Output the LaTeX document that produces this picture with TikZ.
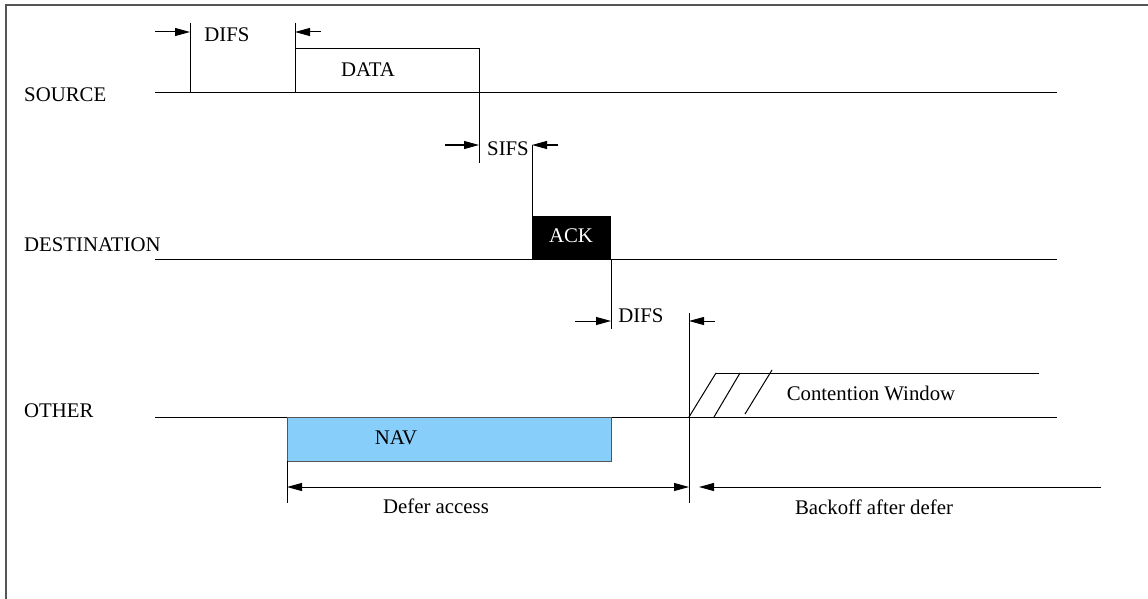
\documentclass[tikz,border=0pt]{standalone}
\usepackage{fontspec}
\setmainfont{Liberation Serif}
\usetikzlibrary{arrows.meta}
\definecolor{navblue}{RGB}{135,206,250}
\definecolor{framegray}{RGB}{85,85,85}
\tikzset{
  lbl/.style={inner sep=0pt, anchor=base, font=\fontsize{20.8}{25}\selectfont},
  rowlbl/.style={lbl, anchor=base west},
  tline/.style={line width=1pt, black},
  tick/.style={line width=1pt, black},
  darr/.style={line width=1pt, -{Triangle[length=15pt,width=8pt]}},
  dblarr/.style={line width=1pt, {Triangle[length=15pt,width=8pt]}-{Triangle[length=15pt,width=8pt]}},
}
\begin{document}
\begin{tikzpicture}[x=1pt,y=-1pt]
\path[use as bounding box, clip] (0,0) rectangle (1148,599);
% outer frame (right and bottom edges fall outside the page)
\draw[framegray, line width=1.3pt] (6,5) rectangle (1200,660);

% row labels
\node[rowlbl] (lsrc) at (24,102) {SOURCE};
\node[rowlbl] (ldst) at (24,251) {DESTINATION};
\node[rowlbl] (loth) at (24,417) {OTHER};

% time lines
\coordinate (s0) at (155,93);  \coordinate (s1) at (1057,93);
\coordinate (d0) at (155,259); \coordinate (d1) at (1057,259);
\coordinate (o0) at (155,417); \coordinate (o1) at (1057,417);
\draw[tline] (s0) -- (s1);
\draw[tline] (d0) -- (d1);
\draw[tline] (o0) -- (o1);

% frame boxes
\coordinate (dataA) at (295,49);  \coordinate (dataB) at (479,93);
\coordinate (ackA)  at (532,216); \coordinate (ackB)  at (611,259);
\coordinate (navA)  at (287,417); \coordinate (navB)  at (611,461);
\draw[tline] (dataA) rectangle (dataB);
\fill[black] (ackA) rectangle (ackB);
\draw[fill=navblue, draw=framegray, line width=1pt] (navA) rectangle (navB);
\node[lbl] (data) at (368,77) {DATA};
\node[lbl, text=white] (ack) at (571,242) {ACK};
\node[lbl] (nav) at (396,444) {NAV};

% interval markers
\coordinate (v1a) at (190,23);  \coordinate (v1b) at (190,93);
\coordinate (v2a) at (295,23);  \coordinate (v2b) at (295,49);
\coordinate (v3a) at (479,93);  \coordinate (v3b) at (479,163);
\coordinate (v4a) at (532,145); \coordinate (v4b) at (532,216);
\coordinate (v5a) at (611,259); \coordinate (v5b) at (611,329);
\coordinate (v6a) at (689,313); \coordinate (v6b) at (689,503);
\coordinate (v7a) at (287,461); \coordinate (v7b) at (287,503);
\foreach \i in {1,...,7} \draw[tick] (v\i a) -- (v\i b);

% arrows pointing at the markers
\coordinate (a1) at (155,32);  \coordinate (t1) at (190,32);
\coordinate (a2) at (321,32);  \coordinate (t2) at (295,32);
\coordinate (a3) at (445,145); \coordinate (t3) at (479,145);
\coordinate (a4) at (558,145); \coordinate (t4) at (532,145);
\coordinate (a5) at (575,321); \coordinate (t5) at (611,321);
\coordinate (a6) at (715,321); \coordinate (t6) at (689,321);
\foreach \i in {1,...,6} \draw[darr] (a\i) -- (t\i);
\node[lbl] (difs1) at (227,42) {DIFS};
\node[lbl] (sifs) at (508,155) {SIFS};
\node[lbl] (difs2) at (641,322) {DIFS};

% contention window
\coordinate (cw0) at (716,373); \coordinate (cw1) at (1039,373);
\draw[tline] (cw0) -- (cw1);
\draw[tline] (689,417) -- (cw0);
\draw[tline] (714,417) -- (740,373);
\draw[tline] (745,414) -- (772,370);
\node[lbl] (cw) at (871,400) {Contention Window};

% defer / backoff spans
\coordinate (df0) at (287,487); \coordinate (df1) at (689,487);
\draw[dblarr] (df0) -- (df1);
\coordinate (bo0) at (1101,487); \coordinate (bo1) at (699,487);
\draw[darr] (bo0) -- (bo1);
\node[lbl] (defer) at (436,513) {Defer access};
\node[lbl] (backoff) at (874,514) {Backoff after defer};
\end{tikzpicture}
\end{document}
